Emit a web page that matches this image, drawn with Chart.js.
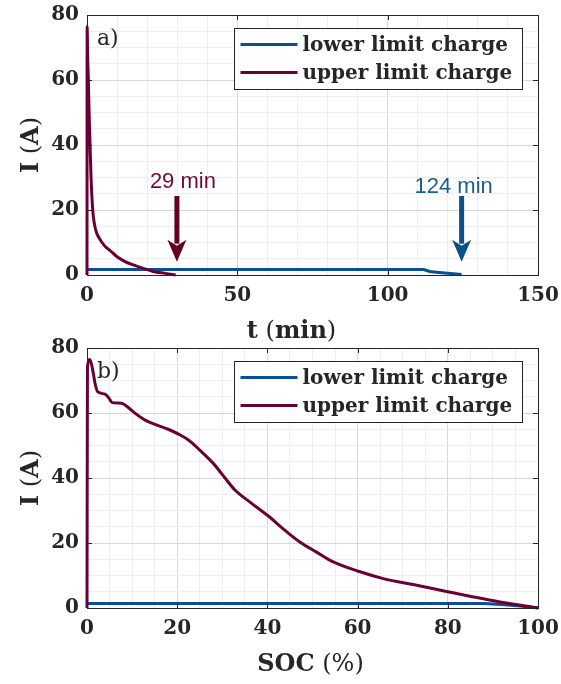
<!DOCTYPE html>
<html>
<head>
<meta charset="utf-8">
<script src="https://cdn.jsdelivr.net/npm/chart.js@4.4.1/dist/chart.umd.min.js"></script>
<style>
  body { margin: 0; background: #fff; }
  #wrap { position: relative; width: 561px; height: 684px; }
  canvas { position: absolute; left: 0; }
</style>
</head>
<body>
<div id="wrap">
  <canvas id="chartTime" width="561" height="345" style="top:0"></canvas>
  <canvas id="chartSoc" width="561" height="354" style="top:330px"></canvas>
</div>
<script>
// a) current vs charging time
let timeLower = [0, 112, 114, 117, 121, 124.6];
let currentLowerTime = [1.7, 1.7, 1.1, 0.8, 0.45, 0.15];
let timeUpper = [0, 0.05, 0.2, 0.45, 0.67, 1.0, 1.33, 1.9, 2.5, 3.2, 3.8, 5, 6.2, 7.6, 10, 12.5, 15.4, 18.5, 22, 26, 29.5];
let currentUpperTime = [0, 76.5, 68, 60, 51, 40.5, 30.3, 20, 15.5, 12.9, 11.8, 10, 8.6, 7.6, 5.6, 4.2, 3.1, 2.1, 1.1, 0.5, 0];

// b) current vs state of charge
let socLower = [0, 88, 92, 96, 100];
let currentLowerSoc = [1.4, 1.4, 1.1, 0.6, 0];
let socUpper = [0, 0.1, 0.66, 1.4, 1.8, 2.4, 4, 4.9, 5.6, 7.7, 8.8, 10.7, 12.9, 15.5, 18, 20.3, 22.5, 25, 28, 31, 32.8, 36.5, 40.2, 43.9, 47.2, 50.9, 54.6, 60.2, 65.7, 73.1, 79.7, 85.7, 91.6, 100];
let currentUpperSoc = [0, 74, 76.5, 72.2, 69, 66.5, 65.8, 64.5, 63.2, 63, 62.1, 59.9, 57.8, 56.3, 55, 53.5, 51.7, 48.6, 44.5, 39.3, 36.3, 32.2, 28.3, 23.9, 20.3, 17.2, 14.2, 11.3, 9.05, 7, 5.1, 3.4, 1.85, 0];

let seriesLabels = ['lower limit charge', 'upper limit charge'];
let arrowTimes = [29.9, 124.6];
let arrowLabels = ['29 min', '124 min'];

const BLUE = '#0a4f94';
const RED = '#690035';
const SERIF = 'DejaVu Serif';

let pts = (xs, ys) => xs.map((x, i) => ({x: x, y: ys[i]}));

let drawParts = (ctx, parts, x, y) => {
  let total = 0;
  parts.forEach(p => { ctx.font = p[1]; total += ctx.measureText(p[0]).width; });
  let cx = x - total / 2;
  parts.forEach(p => { ctx.font = p[1]; ctx.fillText(p[0], cx, y); cx += ctx.measureText(p[0]).width; });
};

let drawArrow = (ctx, x, yTail, yTip, color) => {
  ctx.fillStyle = color;
  ctx.fillRect(x - 2.5, yTail, 5, yTip - yTail - 18);
  ctx.beginPath();
  ctx.moveTo(x - 9.5, yTip - 22);
  ctx.lineTo(x, yTip - 16);
  ctx.lineTo(x + 9.5, yTip - 22);
  ctx.lineTo(x, yTip);
  ctx.closePath();
  ctx.fill();
};

const frame = {
  id: 'frame',
  afterDraw(chart, args, o) {
    const ctx = chart.ctx, a = chart.chartArea;
    const xs = chart.scales.x, ys = chart.scales.y;
    ctx.save();
    // inward ticks on all four sides and the box
    ctx.strokeStyle = '#262626';
    ctx.lineWidth = 1;
    ctx.beginPath();
    xs.ticks.forEach(t => {
      if (t.value % o.xMajor !== 0) return;
      const px = Math.round(xs.getPixelForValue(t.value)) + 0.5;
      ctx.moveTo(px, a.bottom); ctx.lineTo(px, a.bottom - 5);
      ctx.moveTo(px, a.top); ctx.lineTo(px, a.top + 5);
    });
    ys.ticks.forEach(t => {
      if (t.value % o.yMajor !== 0) return;
      const py = Math.round(ys.getPixelForValue(t.value)) + 0.5;
      ctx.moveTo(a.left, py); ctx.lineTo(a.left + 5, py);
      ctx.moveTo(a.right, py); ctx.lineTo(a.right - 5, py);
    });
    ctx.stroke();
    ctx.strokeRect(Math.round(a.left) + 0.5, Math.round(a.top) + 0.5, Math.round(a.right - a.left), Math.round(a.bottom - a.top));

    // legend
    const bw = 288, bh = 61;
    const bx = Math.round(a.right - 16 - bw) + 0.5, by = Math.round(a.top + 13) + 0.5;
    ctx.fillStyle = '#fff';
    ctx.fillRect(bx, by, bw, bh);
    ctx.strokeRect(bx, by, bw, bh);
    chart.data.datasets.forEach((ds, i) => {
      const ly = by + 16 + i * 28;
      ctx.strokeStyle = ds.borderColor;
      ctx.lineWidth = 2.8;
      ctx.beginPath(); ctx.moveTo(bx + 6, ly); ctx.lineTo(bx + 63, ly); ctx.stroke();
      ctx.fillStyle = '#262626';
      ctx.font = 'bold 20px ' + SERIF;
      ctx.textBaseline = 'middle';
      ctx.fillText(ds.label, bx + 68, ly + 1);
    });

    // panel label
    ctx.fillStyle = '#262626';
    ctx.textBaseline = 'alphabetic';
    ctx.font = '22px ' + SERIF;
    ctx.fillText(o.panel, a.left + 10, a.top + 30);

    // axis titles
    drawParts(ctx, o.xTitle, (a.left + a.right) / 2 + o.xTitleShift, a.bottom + 63);
    ctx.save();
    ctx.translate(37.5, (a.top + a.bottom) / 2);
    ctx.rotate(-Math.PI / 2);
    drawParts(ctx, o.yTitle, 0, 0);
    ctx.restore();

    // arrows
    if (o.arrows) {
      o.arrows.times.forEach((t, i) => {
        const px = xs.getPixelForValue(t);
        drawArrow(ctx, px, ys.getPixelForValue(24.3), ys.getPixelForValue(4.1), o.arrows.colors[i]);
        ctx.fillStyle = o.arrows.textColors[i];
        ctx.font = '22px "Liberation Sans"';
        ctx.textAlign = 'center';
        ctx.textBaseline = 'middle';
        ctx.fillText(o.arrows.labels[i], px + o.arrows.dx[i], ys.getPixelForValue(o.arrows.labelY[i]));
      });
    }
    ctx.restore();
  }
};

let gridOpts = (major) => ({
  drawTicks: false,
  lineWidth: 1,
  color: c => (c.tick && c.tick.value % major === 0) ? '#d8d8d8' : '#eeeeee'
});

let tickOpts = (major, pad) => ({
  color: '#262626',
  padding: pad,
  font: {family: SERIF, weight: 'bold', size: 20},
  maxRotation: 0,
  autoSkip: false,
  callback: v => v % major === 0 ? String(v) : ''
});

let makeChart = (id, lowerX, lowerY, upperX, upperY, xMax, xStep, xMajor, frameOpts, padTop, xHeight) => {
  const ctx = document.getElementById(id);
  const config = {
    type: 'line',
    data: {
      datasets: [{
        label: seriesLabels[0],
        data: pts(lowerX, lowerY),
        borderColor: BLUE,
        borderWidth: 3,
        pointRadius: 0,
        clip: 4,
        order: 2
      }, {
        label: seriesLabels[1],
        data: pts(upperX, upperY),
        borderColor: RED,
        borderWidth: 3,
        pointRadius: 0,
        cubicInterpolationMode: 'monotone',
        clip: 4,
        order: 1
      }]
    },
    options: {
      responsive: false,
      animation: false,
      devicePixelRatio: 1,
      layout: {padding: {left: 0, top: padTop, right: 23, bottom: 0}},
      plugins: {legend: {display: false}, tooltip: {enabled: false}, frame: frameOpts},
      scales: {
        x: {
          type: 'linear', min: 0, max: xMax,
          ticks: Object.assign(tickOpts(xMajor, 9), {stepSize: xStep}),
          grid: gridOpts(xMajor),
          border: {display: false},
          afterFit: s => { s.height = xHeight; s.paddingLeft = 0; s.paddingRight = 0; }
        },
        y: {
          type: 'linear', min: 0, max: 80,
          ticks: Object.assign(tickOpts(20, 8), {stepSize: 5}),
          grid: gridOpts(20),
          border: {display: false},
          afterFit: s => { s.width = 87; s.paddingTop = 0; s.paddingBottom = 0; }
        }
      }
    },
    plugins: [frame]
  };
  return new Chart(ctx, config);
};

const B = 'bold 24px ' + SERIF, R = '24px ' + SERIF;
const yTitle = [['I', B], [' (', R], ['A', B], [')', R]];

makeChart('chartTime', timeLower, currentLowerTime, timeUpper, currentUpperTime, 150, 10, 50, {
  xMajor: 50, yMajor: 20, panel: 'a)',
  xTitle: [['t', B], [' (', R], ['min', B], [')', R]], xTitleShift: -21,
  yTitle: yTitle,
  arrows: {
    times: arrowTimes, labels: arrowLabels,
    labelY: [28.6, 27.2], dx: [6, -8],
    colors: ['#650020', '#0d5086'], textColors: ['#6b0f2e', '#1d5d92']
  }
}, 15, 70);

makeChart('chartSoc', socLower, currentLowerSoc, socUpper, currentUpperSoc, 100, 5, 20, {
  xMajor: 20, yMajor: 20, panel: 'b)',
  xTitle: [['SOC', B], [' (', R], ['%', R], [')', R]], xTitleShift: -2,
  yTitle: yTitle
}, 18, 76);
</script>
</body>
</html>
